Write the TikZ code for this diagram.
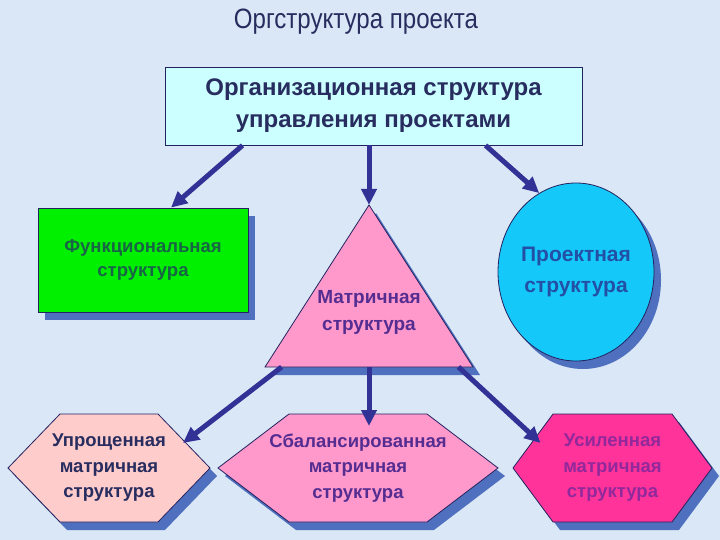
\documentclass[tikz,border=0pt]{standalone}
\usepackage{fontspec}
\setmainfont{Liberation Sans}
\newfontfamily\titlefont[FakeStretch=0.86]{Liberation Sans}
\usetikzlibrary{arrows.meta,shadows,shapes.geometric,calc}
\definecolor{bg}{RGB}{218,231,246}
\definecolor{frame}{RGB}{35,35,95}
\definecolor{arrowc}{RGB}{50,50,150}
\definecolor{shade}{RGB}{78,112,190}
\definecolor{topfill}{RGB}{204,255,255}
\definecolor{funcfill}{RGB}{0,240,0}
\definecolor{projfill}{RGB}{20,200,250}
\definecolor{matrfill}{RGB}{255,153,204}
\definecolor{uprfill}{RGB}{255,204,204}
\definecolor{usilfill}{RGB}{255,51,153}
\definecolor{navy}{RGB}{40,45,95}
\definecolor{greentxt}{RGB}{25,100,70}
\definecolor{purpletxt}{RGB}{85,45,145}
\definecolor{bluetxt}{RGB}{35,80,165}
\definecolor{violettxt}{RGB}{145,40,155}

\begin{document}
\begin{tikzpicture}[x=1pt,y=-1pt,
    box/.style={draw=frame,line width=0.8pt,align=center,inner sep=0pt},
    link/.style={arrowc,line width=5pt,-{Triangle[length=16pt,width=15pt]}},
    shadowed/.style={drop shadow={shadow xshift=7pt,shadow yshift=-8pt,fill=shade,opacity=1}}]
    \fill[bg] (0,0) rectangle (720,540);
    \useasboundingbox (0,0) rectangle (720,540);

    % title
    \node[font=\titlefont\fontsize{28}{30}\selectfont,text=navy] (title)
      at (356,22) {Оргструктура проекта};

    % top level
    \node[box,fill=topfill,minimum width=417pt,minimum height=78pt,
      font=\bfseries\fontsize{24}{32}\selectfont,text=navy] (org)
      at (373.5,106) {Организационная структура\\управления проектами};

    % second level
    \node[box,shadowed,fill=funcfill,minimum width=210pt,minimum height=104pt,
      font=\bfseries\fontsize{18.5}{24}\selectfont,text=greentxt] (func)
      at (143,260) {Функциональная\\структура};
    \node[box,ellipse,shadowed,fill=projfill,minimum width=156pt,minimum height=178pt,
      font=\bfseries\fontsize{21}{31}\selectfont,text=bluetxt] (proj)
      at (576,272) {Проектная\\структура};
    \coordinate (tri-t) at (369,205);
    \coordinate (tri-l) at (265,367);
    \coordinate (tri-r) at (473,367);
    \draw[frame,line width=0.8pt,fill=matrfill,shadowed] (tri-t) -- (tri-l) -- (tri-r) -- cycle;
    \node[font=\bfseries\fontsize{19}{27}\selectfont,text=purpletxt,align=center] (matr)
      at (369,312) {Матричная\\структура};

    % third level
    \foreach \n/\hx/\hw/\hs/\col/\tcol/\lbl in {
      upr/109/101/52/uprfill/navy/{Упрощенная\\матричная\\структура},
      bal/358/140/71/matrfill/purpletxt/{Сбалансированная\\матричная\\структура},
      usil/612.5/99.5/40/usilfill/violettxt/{Усиленная\\матричная\\структура}}{
      \draw[frame,line width=0.8pt,fill=\col,shadowed]
        (\hx-\hw,468) -- (\hx-\hw+\hs,414) -- (\hx+\hw-\hs,414) --
        (\hx+\hw,468) -- (\hx+\hw-\hs,522) -- (\hx-\hw+\hs,522) -- cycle;
      \node[font=\bfseries\fontsize{18.5}{25.5}\selectfont,text=\tcol,align=center] (\n)
        at (\hx,468) {\lbl};
    }

    % connectors
    \draw[link] ([xshift=-131pt]org.south) -- ([xshift=28pt]func.north);
    \draw[link] (tri-t |- org.south) -- (tri-t);
    \draw[link] ([xshift=112pt]org.south) -- (proj.115);
    \draw[link] ($(tri-l)!0.08!(tri-r)$) -- ([xshift=74pt,yshift=25pt]upr.center);
    \draw[link] (tri-t |- tri-l) -- ([xshift=11pt,yshift=42pt]bal.center);
    \draw[link] ($(tri-l)!0.93!(tri-r)$) -- ([xshift=-72pt,yshift=25pt]usil.center);
\end{tikzpicture}
\end{document}
